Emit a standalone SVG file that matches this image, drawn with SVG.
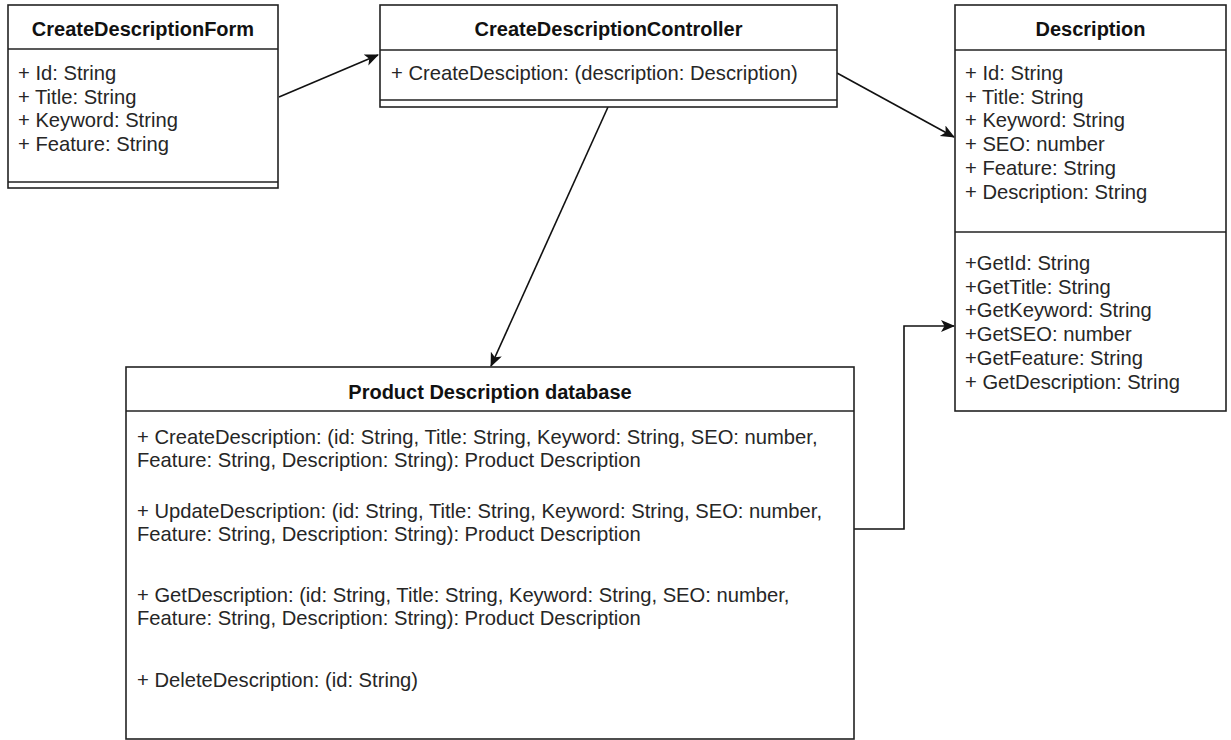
<svg xmlns="http://www.w3.org/2000/svg" width="1231" height="740" viewBox="0 0 1231 740">
<style>
.box{fill:#fff;stroke:#222;stroke-width:1.6}
.sep{stroke:#222;stroke-width:1.6;fill:none}
.t{font-family:"Liberation Sans",Arial,sans-serif;font-size:20.2px;fill:#262626}
.h{font-family:"Liberation Sans",Arial,sans-serif;font-size:20px;font-weight:bold;fill:#111;text-anchor:middle}
.c{stroke:#111;stroke-width:1.6;fill:none;marker-end:url(#arr)}
</style>
<defs>
<marker id="arr" markerWidth="16" markerHeight="14" refX="13" refY="6" orient="auto" markerUnits="userSpaceOnUse">
<path d="M0,0 L14,6 L0,12 L3.5,6 z" fill="#111"/>
</marker>
</defs>
<rect width="1231" height="740" fill="#fff"/>
<g id="connectors">
<line class="c" x1="279" y1="97" x2="378" y2="55"/>
<line class="c" x1="837" y1="73" x2="954" y2="137"/>
<line class="c" x1="608" y1="107" x2="491" y2="366"/>
<polyline class="c" points="854,529 904,529 904,326 954,326"/>
</g>
<g id="form">
<rect class="box" x="8" y="5" width="270" height="183"/>
<line class="sep" x1="8" y1="49" x2="278" y2="49"/>
<line class="sep" x1="8" y1="182" x2="278" y2="182"/>
<text class="h" x="143" y="36">CreateDescriptionForm</text>
<text class="t" x="18" y="80">+ Id: String</text>
<text class="t" x="18" y="104">+ Title: String</text>
<text class="t" x="18" y="127">+ Keyword: String</text>
<text class="t" x="18" y="151">+ Feature: String</text>
</g>
<g id="controller">
<rect class="box" x="380" y="5" width="457" height="102"/>
<line class="sep" x1="380" y1="50" x2="837" y2="50"/>
<line class="sep" x1="380" y1="100" x2="837" y2="100"/>
<text class="h" x="608.5" y="36">CreateDescriptionController</text>
<text class="t" x="391" y="80">+ CreateDesciption: (description: Description)</text>
</g>
<g id="description">
<rect class="box" x="955" y="5" width="271" height="406"/>
<line class="sep" x1="955" y1="50" x2="1226" y2="50"/>
<line class="sep" x1="955" y1="232" x2="1226" y2="232"/>
<text class="h" x="1090.5" y="36">Description</text>
<text class="t" x="965" y="80">+ Id: String</text>
<text class="t" x="965" y="104">+ Title: String</text>
<text class="t" x="965" y="127">+ Keyword: String</text>
<text class="t" x="965" y="151">+ SEO: number</text>
<text class="t" x="965" y="175">+ Feature: String</text>
<text class="t" x="965" y="199">+ Description: String</text>
<text class="t" x="965" y="270">+GetId: String</text>
<text class="t" x="965" y="294">+GetTitle: String</text>
<text class="t" x="965" y="317">+GetKeyword: String</text>
<text class="t" x="965" y="341">+GetSEO: number</text>
<text class="t" x="965" y="365">+GetFeature: String</text>
<text class="t" x="965" y="389">+ GetDescription: String</text>
</g>
<g id="database">
<rect class="box" x="126" y="367" width="728" height="372"/>
<line class="sep" x1="126" y1="411" x2="854" y2="411"/>
<text class="h" x="490" y="399">Product Description database</text>
<text class="t" x="137" y="444">+ CreateDescription: (id: String, Title: String, Keyword: String, SEO: number,</text>
<text class="t" x="137" y="467">Feature: String, Description: String): Product Description</text>
<text class="t" x="137" y="518">+ UpdateDescription: (id: String, Title: String, Keyword: String, SEO: number,</text>
<text class="t" x="137" y="541">Feature: String, Description: String): Product Description</text>
<text class="t" x="137" y="602">+ GetDescription: (id: String, Title: String, Keyword: String, SEO: number,</text>
<text class="t" x="137" y="625">Feature: String, Description: String): Product Description</text>
<text class="t" x="137" y="687">+ DeleteDescription: (id: String)</text>
</g>
</svg>
